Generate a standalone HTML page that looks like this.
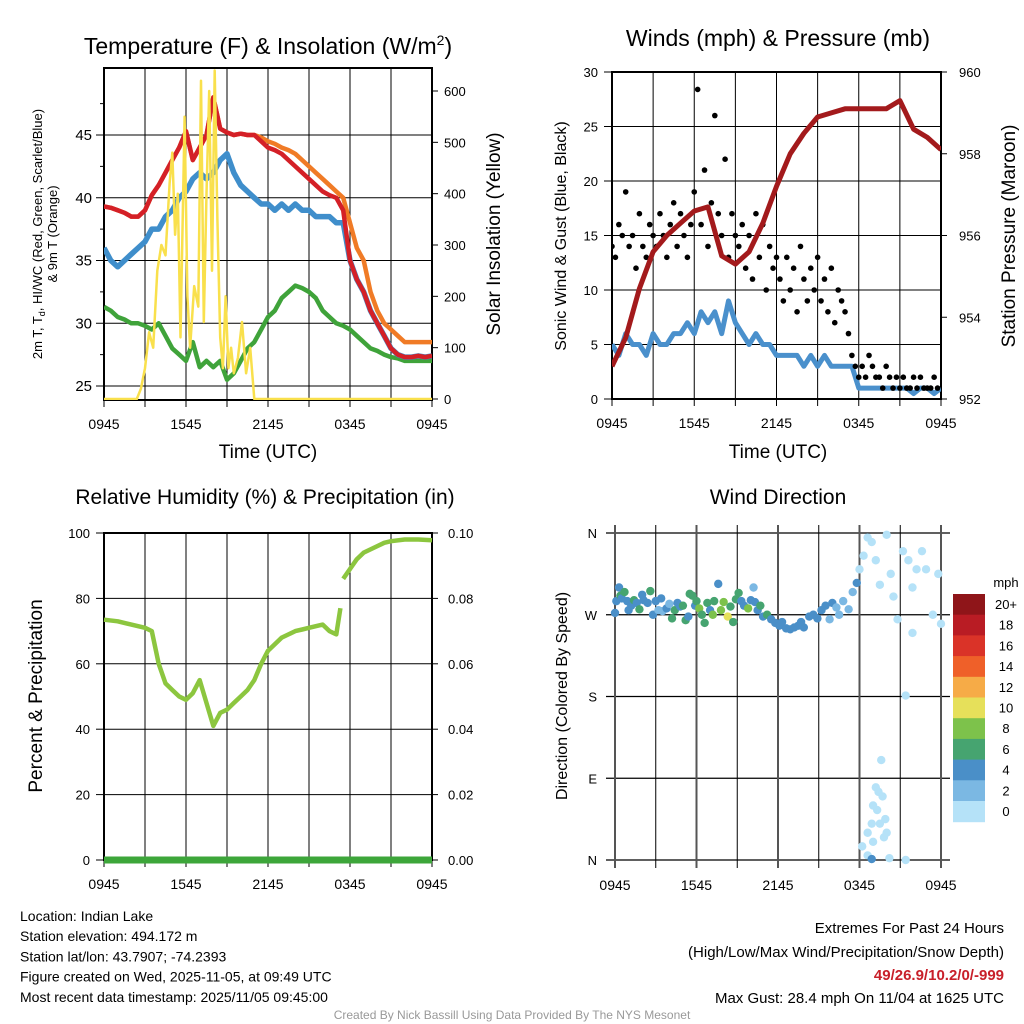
<!DOCTYPE html>
<html><head><meta charset="utf-8"><style>
body{margin:0;background:#fff;}
svg{display:block;font-family:"Liberation Sans",Arial,sans-serif;}
</style></head><body>
<svg id="c" width="1024" height="1024" viewBox="0 0 1024 1024" xmlns="http://www.w3.org/2000/svg">
<defs>
<clipPath id="clip1"><rect x="104" y="68" width="328" height="332"/></clipPath>
<clipPath id="clip2"><rect x="612" y="72" width="329" height="327"/></clipPath>
</defs>
</svg>
<script>
// ---------- data ----------
const xTicks = ["0945","1545","2145","0345","0945"];
const tempTicks = [25,30,35,40,45];
const solarTicks = [0,100,200,300,400,500,600];
const windTicks = [0,5,10,15,20,25,30];
const presTicks = [952,954,956,958,960];
const rhTicks = [0,20,40,60,80,100];
const precipTicks = ["0.00","0.02","0.04","0.06","0.08","0.10"];
const dirTicks = ["N","E","S","W","N"];
const speedLabels = ["0","2","4","6","8","10","12","14","16","18","20+"];
const speedColors = ["#b5e2f8","#7bb8e3","#4a8fc8","#46a470","#7dc24b","#e6e05a","#f6ab47","#ef6029","#da3328","#b91c24","#8f1519"];

const tempRed = [39.3,39.2,39,38.8,38.5,38.5,39,40.2,41,42,43,44,45.3,43,44,45,48,45.5,45.2,45,45.1,45,45,44.5,44,43.8,43.5,43,42.5,42,41.5,41,40.5,40.2,40,39,35,33.5,32.5,31,30,29,28,27.5,27.3,27.3,27.4,27.3,27.4];
const tempOrange = [39.3,39.2,39,38.8,38.5,38.5,39,40.2,41,42,43,44,45.3,43,44,45,48,45.5,45.2,45,45.1,45,45,44.8,44.5,44.3,44,43.8,43.5,43,42.5,42,41.5,41,40.5,40,38,36,35,32.5,31,30,29.5,29,28.5,28.5,28.5,28.5,28.5];
const tempBlue = [36,35,34.5,35,35.5,36,36.5,37.5,37.5,38.5,39,40,40.5,41.5,42,41.5,42,43,43.5,42,41,40.5,40,39.5,39.5,39,39.5,39,39.5,39,39,38.5,38.5,38.5,38,38,35,33.5,32.5,31,30,29,28,27.5,27.3,27.3,27.4,27.3,27.4];
const tempGreen = [31.3,31,30.5,30.3,30,30,29.8,29.5,30,29,28,27.5,27,28.5,26.5,27,26.5,27,25.5,26,27,28,28.5,29.5,30.5,31,32,32.5,33,32.8,32.5,32,31,30.5,30,29.8,29.5,29,28.5,28,27.8,27.5,27.3,27.2,27,27,27,27,27];
const solarT = [0,2.4,2.7,3.0,3.3,3.6,3.9,4.2,4.5,4.8,5.0,5.2,5.4,5.6,5.9,6.1,6.3,6.6,6.9,7.1,7.3,7.5,7.7,7.9,8.1,8.3,8.5,8.7,8.9,9.1,9.3,9.5,9.8,10.1,10.4,10.7,11.0,24];
const solarV = [0,0,20,60,130,100,250,300,280,420,480,320,400,120,550,200,100,220,180,620,150,400,600,250,640,350,120,60,200,60,100,50,80,150,50,100,0,0];

const pressure = [952.8,953.5,954.7,955.6,956,956.3,956.6,956.7,955.5,955.3,955.6,956.3,957.2,958,958.5,958.9,959,959.1,959.1,959.1,959.1,959.3,958.6,958.4,958.1];
const windSpeed = [5,4,6,5,5,4,6,5,5,6,6,7,6,8,7,8,6,9,7,6,5,6,5,5,4,4,4,4,3,4,3,4,3,3,3,3,1,1,1,1,1,1,1,1,0.5,1,1,0.5,1];
const gust = [14,13,16,15,19,14,15,12,17,14,13,16,15,14,17,15,13,16,18,14,17,15,13,16,19,28.4,16,21,14,18,26,17,15,22,13,17,15,14,16,12,15,11,17,13,16,10,14,12,13,11,9,13,10,12,8,14,11,9,12,10,13,9,11,8,12,7,10,9,8,6,4,3,2,3,2,4,3,2,2,1,3,2,1,2,1,2,1,1,2,1,2,1,1,1,2,1];

const rh1T = [0,1,2,3,3.5,4,4.5,5,5.5,6,6.5,7,7.5,8,8.5,9,9.5,10,10.5,11,11.5,12,12.5,13,13.5,14,14.5,15,15.5,16,16.5,17,17.3];
const rh1V = [73.5,73,72,71,70,60,54,52,50,49,51,55,48,41,45,46,48,50,52,55,60,64,66,68,69,70,70.5,71,71.5,72,70,69,77];
const rh2T = [17.5,18,18.5,19,19.5,20,20.5,21,22,23,24];
const rh2V = [86,89,92,94,95,96,97,97.5,98,98,97.8];

const dirT = [0.0,0.1,0.3,0.4,0.5,0.7,0.9,1.0,1.2,1.4,1.6,1.8,2.0,2.1,2.4,2.6,2.8,3.0,3.2,3.4,3.5,3.8,4.0,4.2,4.4,4.6,4.8,5.0,5.2,5.4,5.5,5.7,5.9,6.0,6.2,6.4,6.6,6.8,7.0,7.2,7.3,7.6,7.8,8.0,8.3,8.5,8.7,8.9,9.1,9.3,9.5,9.8,10.0,10.2,10.3,10.5,10.7,10.9,11.2,11.5,11.8,12.1,12.3,12.6,12.9,13.2,13.5,13.7,13.9,14.3,14.6,14.9,15.2,15.5,15.8,16.0,16.3,16.5,16.8,17.2,17.5,17.8,18.0,18.3,18.6,18.9,19.2,19.5,20.0,20.3,20.5,20.8,21.2,21.6,21.9,22.2,22.6,22.9,23.4,23.8,24.0,21.9,19.0,19.3,19.6,19.2,19.4,18.6,18.9,19.0,18.2,18.6,19.8,20.2,21.4,19.5,20.0,19.9,19.7,18.9,21.4];
const dirV = [272,285,300,291,288,295,285,275,280,286,283,276,292,286,283,296,270,285,275,288,274,277,282,266,275,283,279,280,264,268,293,291,280,285,277,270,261,283,275,270,285,304,275,284,268,279,262,287,294,285,280,277,286,300,284,275,280,268,270,265,261,258,262,255,254,256,258,262,256,268,270,266,275,280,265,283,278,270,285,276,295,305,320,335,355,350,330,303,358,315,290,265,340,330,300,320,340,320,270,315,260,250,60,55,110,80,75,30,40,20,15,5,25,2,0,40,30,45,70,1,181];
const dirS = [4,4,4,6,4,6,4,4,4,6,4,6,4,4,4,6,4,4,3,4,3,4,3,6,7,4,5,6,6,4,6,7,4,6,8,6,6,7,4,9,6,4,8,8,10,7,6,6,6,4,4,8,4,2,4,4,6,4,6,4,4,4,4,4,4,4,4,4,4,4,4,4,4,4,2,4,2,2,2,2,2,4,0,0,0,0,0,0,0,0,0,0,0,0,0,0,0,0,0,0,0,0,0,0,0,0,0,0,0,0,0,0,0,0,0,0,0,0,0,4,0];

// ---------- helpers ----------
const svg = document.getElementById('c');
const NS = 'http://www.w3.org/2000/svg';
function el(tag, attrs, parent){const e=document.createElementNS(NS,tag);for(const k in attrs)e.setAttribute(k,attrs[k]);(parent||svg).appendChild(e);return e;}
function txt(x,y,s,size,anchor,extra){const e=el('text',Object.assign({x:x,y:y,'font-size':size,'text-anchor':anchor||'middle',fill:'#000'},extra||{}));e.textContent=s;return e;}
function lin(d0,d1,r0,r1){return v=>r0+(v-d0)/(d1-d0)*(r1-r0);}
function pathFrom(ts,vs,sx,sy){return ts.map((t,i)=>(i?'L':'M')+sx(t).toFixed(1)+','+sy(vs[i]).toFixed(1)).join('');}
const halfT = tempRed.map((_,i)=>i*0.5);

function frame(x0,y0,x1,y1,name){
  for(let k=0;k<=8;k++){const x=x0+(x1-x0)*k/8;const g=el('line',{x1:x,y1:y0,x2:x,y2:y1+7,stroke:'#000','stroke-width':1});
    
    }
  const r=el('rect',{x:x0,y:y0,width:x1-x0,height:y1-y0,fill:'none',stroke:'#000','stroke-width':2});
  
  
  xTicks.forEach((s,i)=>{const x=x0+(x1-x0)*i/4;
    const t=txt(x,y1+29,s,14);
    
    });
}
function hgrid(x0,x1,y){el('line',{x1:x0,y1:y,x2:x1,y2:y,stroke:'#000','stroke-width':1});}

// ---------- panel 1: temperature ----------
(function(){
  const x0=104,x1=432,y0=68,y1=400;
  const sx=lin(0,24,x0,x1), sy=lin(25,45,386,135), ss=lin(0,600,399,91);
  tempTicks.forEach(v=>{hgrid(x0,x1,sy(v));el('line',{x1:x0-8,y1:sy(v),x2:x0,y2:sy(v),stroke:'#000'});const t=txt(x0-12,sy(v)+5,v,15,'end');});
  [27.5,32.5,37.5,42.5,47.5].forEach(v=>el('line',{x1:x0-4,y1:sy(v),x2:x0,y2:sy(v),stroke:'#000'}));
  solarTicks.forEach(v=>{el('line',{x1:x1,y1:ss(v),x2:x1+6,y2:ss(v),stroke:'#000'});const t=txt(x1+12,ss(v)+5,v,13,'start');});
  frame(x0,y0,x1,y1,'temperature-panel');
  const g=el('g',{'clip-path':'url(#clip1)'});
  const series=[[tempGreen,'#3fa33a','windchill-line'],[tempBlue,'#3f8ecb','dewpoint-line'],[tempOrange,'#f07b26','temp-9m-line'],[tempRed,'#d42027','temp-2m-line']];
  series.forEach(s=>{const p=el('path',{d:pathFrom(halfT,s[0],sx,sy),fill:'none',stroke:s[1],'stroke-width':s[2]==='dewpoint-line'?5.5:4.5,'stroke-linejoin':'round'},g);
    
    });
  const ps=el('path',{d:pathFrom(solarT,solarV,sx,ss),fill:'none',stroke:'#f9e04c','stroke-width':2.5,'stroke-linejoin':'round'},g);
  
  
  const t=el('text',{x:268,y:54,'font-size':23,'text-anchor':'middle'});t.innerHTML='Temperature (F) &amp; Insolation (W/m<tspan font-size="14" dy="-9">2</tspan><tspan dy="9">)</tspan>';
  
  const xl=txt(268,458,'Time (UTC)',19);
  const yl=el('text',{transform:'translate(42,234) rotate(-90)','font-size':13,'text-anchor':'middle'});yl.innerHTML='2m T, T<tspan font-size="9" dy="3">d</tspan><tspan dy="-3">, HI/WC (Red, Green, Scarlet/Blue)</tspan>';
  
  const yl2=txt(0,0,'& 9m T (Orange)',13,'middle',{transform:'translate(57,234) rotate(-90)'});
  const yr=txt(0,0,'Solar Insolation (Yellow)',19,'middle',{transform:'translate(500,234) rotate(-90)'});
})();

// ---------- panel 2: winds ----------
(function(){
  const x0=612,x1=941,y0=72,y1=399;
  const sx=lin(0,24,x0,x1), sy=lin(0,30,y1,y0), sp=lin(952,960,y1,y0);
  windTicks.forEach(v=>{hgrid(x0,x1,sy(v));el('line',{x1:x0-8,y1:sy(v),x2:x0,y2:sy(v),stroke:'#000'});const t=txt(x0-14,sy(v)+5,v,13,'end');});
  presTicks.forEach(v=>{el('line',{x1:x1,y1:sp(v),x2:x1+6,y2:sp(v),stroke:'#000'});const t=txt(x1+18,sp(v)+5,v,13,'start');});
  frame(x0,y0,x1,y1,'winds-panel');
  const g=el('g',{'clip-path':'url(#clip2)'});
  const pw=el('path',{d:pathFrom(windSpeed.map((_,i)=>i*0.5),windSpeed,sx,sy),fill:'none',stroke:'#4a90cc','stroke-width':5,'stroke-linejoin':'round'},g);
  
  gust.forEach((v,i)=>{const c=el('circle',{cx:sx(i*0.25),cy:sy(v),r:2.8,fill:'#000'},g);
    
    });
  const pp=el('path',{d:pathFrom(pressure.map((_,i)=>i),pressure,sx,sp),fill:'none',stroke:'#a31a1c','stroke-width':5,'stroke-linejoin':'round'},g);
  
  const t=txt(778,46,'Winds (mph) & Pressure (mb)',23);
  const xl=txt(778,458,'Time (UTC)',19);
  const yl=txt(0,0,'Sonic Wind & Gust (Blue, Black)',16,'middle',{transform:'translate(566,236) rotate(-90)'});
  const yr=txt(0,0,'Station Pressure (Maroon)',19,'middle',{transform:'translate(1015,236) rotate(-90)'});
})();

// ---------- panel 3: RH ----------
(function(){
  const x0=104,x1=432,y0=533,y1=860;
  const sx=lin(0,24,x0,x1), sy=lin(0,100,y1,y0);
  rhTicks.forEach((v,i)=>{hgrid(x0,x1,sy(v));el('line',{x1:x0-8,y1:sy(v),x2:x0,y2:sy(v),stroke:'#000'});const t=txt(x0-14,sy(v)+5,v,13,'end');
    el('line',{x1:x1,y1:sy(v),x2:x1+6,y2:sy(v),stroke:'#000'});const t2=txt(x1+16,sy(v)+5,precipTicks[i],13,'start');});
  frame(x0,y0,x1,y1,'rh-panel');
  [[rh1T,rh1V],[rh2T,rh2V]].forEach(s=>{const p=el('path',{d:pathFrom(s[0],s[1],sx,sy),fill:'none',stroke:'#8cc63f','stroke-width':4.5,'stroke-linejoin':'round'});
    
    });
  const pr=el('line',{x1:x0,y1:sy(0),x2:x1,y2:sy(0),stroke:'#3da63a','stroke-width':7});
  
  const t=txt(265,504,'Relative Humidity (%) & Precipitation (in)',21);
  const yl=txt(0,0,'Percent & Precipitation',19,'middle',{transform:'translate(42,696) rotate(-90)'});
})();

// ---------- panel 4: wind direction ----------
(function(){
  const x0=615,x1=941,y0=533,y1=860;
  const sx=lin(0,24,x0,x1), sy=lin(0,360,y1,y0);
  [0,90,180,270,360].forEach((v,i)=>{el('line',{x1:606,y1:sy(v),x2:950,y2:sy(v),stroke:'#000','stroke-width':1.2});const t=txt(597,sy(v)+5,dirTicks[i],13,'end');});
  for(let k=0;k<=8;k++){const x=x0+(x1-x0)*k/8;el('line',{x1:x,y1:y0-8,x2:x,y2:y1+8,stroke:k%2?'#000':'#555','stroke-width':k%2?1:2});}
  xTicks.forEach((s,i)=>{const t=txt(x0+(x1-x0)*i/4,y1+30,s,14);});
  dirT.forEach((t,i)=>{const b=Math.min(10,Math.floor(dirS[i]/2));const c=el('circle',{cx:sx(t),cy:sy(dirV[i]),r:4.2,fill:speedColors[b]});
    
    });
  const t=txt(778,504,'Wind Direction',21);
  const yl=txt(0,0,'Direction (Colored By Speed)',16,'middle',{transform:'translate(567,696) rotate(-90)'});
  const cbTop=594,cbH=20.7;
  const u=txt(1006,587,'mph',13);
  speedColors.slice().reverse().forEach((c,i)=>{const r=el('rect',{x:953,y:cbTop+i*cbH,width:32,height:cbH+0.5,fill:c});
    
    
    const lb=txt(1006,cbTop+i*cbH+15,speedLabels[10-i],13);
    
    });
})();

// ---------- footer ----------
const info=["Location: Indian Lake","Station elevation: 494.172 m","Station lat/lon: 43.7907; -74.2393","Figure created on Wed, 2025-11-05, at 09:49 UTC","Most recent data timestamp: 2025/11/05 09:45:00"];
info.forEach((s,i)=>{const t=txt(20,921+i*20.2,s,14,'start');});
[["Extremes For Past 24 Hours",933,'#000','normal'],["(High/Low/Max Wind/Precipitation/Snow Depth)",957,'#000','normal'],["49/26.9/10.2/0/-999",980,'#c8202a','bold'],["Max Gust: 28.4 mph On 11/04 at 1625 UTC",1003,'#000','normal']].forEach(r=>{
  const t=txt(1004,r[1],r[0],15,'end',{fill:r[2],'font-weight':r[3]});
  
  });
const cr=txt(512,1019,'Created By Nick Bassill Using Data Provided By The NYS Mesonet',12,'middle',{fill:'#999'});

</script>
</body></html>
